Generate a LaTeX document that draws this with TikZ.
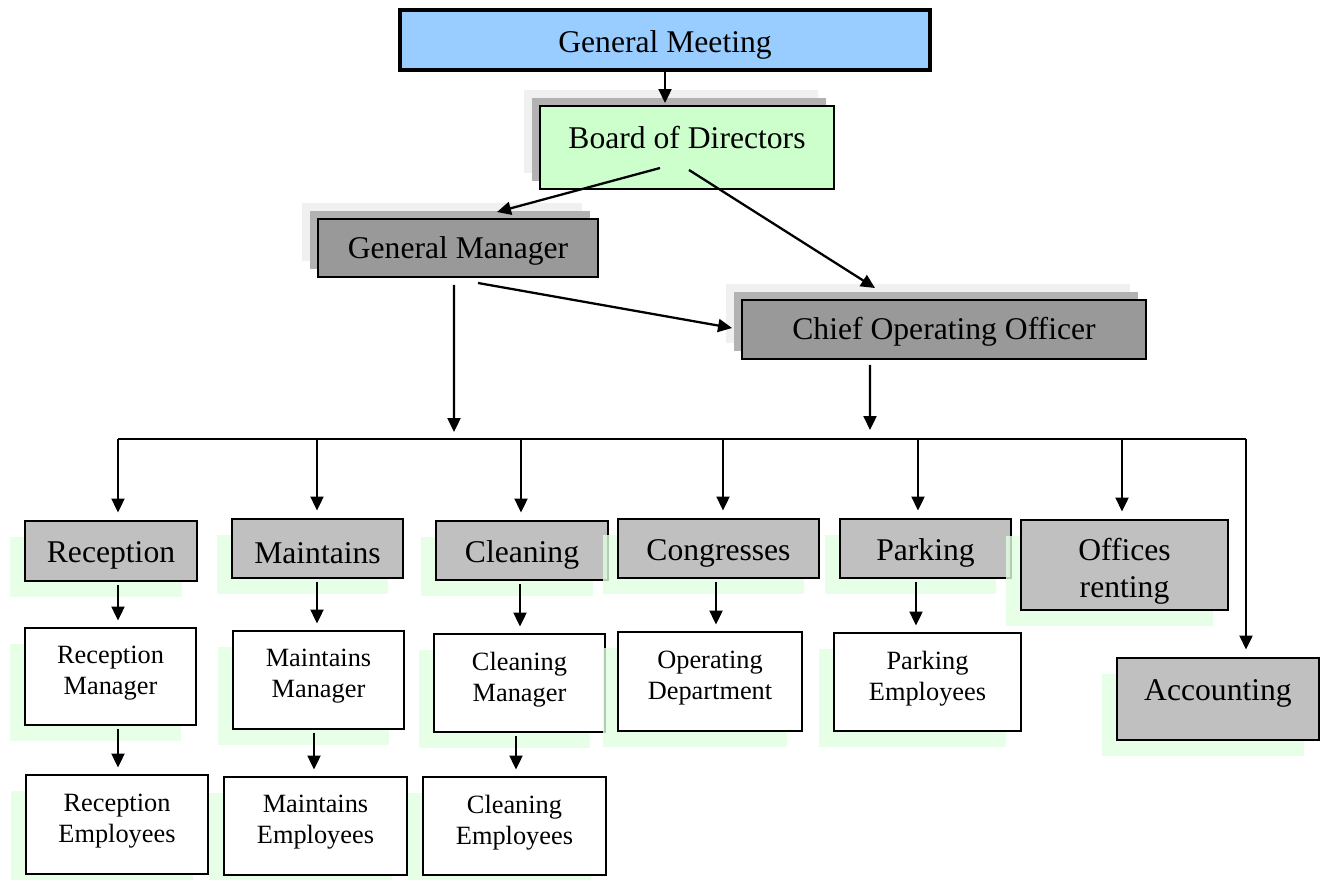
\documentclass[tikz,border=0pt]{standalone}
\usepackage{fontspec}
\setmainfont{Liberation Serif}
\usetikzlibrary{arrows.meta,shadows}
\definecolor{ocInk}{HTML}{000000}
\definecolor{ocBlue}{HTML}{99CCFF}
\definecolor{ocMint}{HTML}{CCFFCC}
\definecolor{ocDark}{HTML}{999999}
\definecolor{ocGrey}{HTML}{C0C0C0}
\definecolor{ocShade}{HTML}{B2B2B2}
\definecolor{ocHaze}{HTML}{F0F0F0}
\definecolor{ocGreen}{HTML}{E0FFE0}

\begin{document}
\begin{tikzpicture}[
  x=0.02cm,y=-0.02cm,
  every node/.style={text=ocInk,align=center,inner sep=0pt,outer sep=0pt},
  big/.style={font=\fontsize{18}{21}\selectfont},
  small/.style={font=\fontsize{15}{17.5}\selectfont},
  twoshade/.style={general shadow={draw=none,fill=ocHaze,shadow xshift=-0.32cm,shadow yshift=0.32cm},
    general shadow={draw=none,fill=ocShade,shadow xshift=-0.16cm,shadow yshift=0.16cm}},
  greenshade/.style={general shadow={draw=none,fill=ocGreen,fill opacity=0.8,shadow xshift=-0.3cm,shadow yshift=-0.32cm}},
  head/.style={big,draw,line width=1pt,fill=ocDark,twoshade,text height=0.55cm},
  unit/.style={big,draw,line width=1pt,fill=ocGrey,greenshade,text height=0.6cm},
  staff/.style={small,draw,line width=1pt,fill=white,greenshade,text depth=0.26cm},
  flow/.style={-{Triangle[length=2.8mm,width=2.6mm]},line width=1.3pt},
  bus/.style={line width=1.3pt}
]
\path[use as bounding box] (0,0) rectangle (1324,879);
% top of the chart
\node[big,draw,line width=2pt,fill=ocBlue,text height=0.63cm,minimum width=10.6cm,minimum height=1.2cm] (meet) at (665,40) {General Meeting};
\node[big,draw,line width=1pt,fill=ocMint,twoshade,text depth=0.4cm,minimum width=5.88cm,minimum height=1.66cm] (board) at (687,147.5) {Board of Directors};
\node[head,minimum width=5.6cm,minimum height=1.16cm] (genmgr) at (458,248) {General Manager};
\node[head,minimum width=8.08cm,minimum height=1.18cm] (coo) at (944,329.5) {Chief Operating Officer};
% departments
\node[unit,minimum width=3.44cm,minimum height=1.2cm] (recep) at (111,551) {Reception};
\node[unit,minimum width=3.42cm,minimum height=1.18cm] (maint) at (317.5,548.5) {Maintains};
\node[unit,minimum width=3.44cm,minimum height=1.18cm] (clean) at (522,550.5) {Cleaning};
\node[unit,minimum width=4.02cm,minimum height=1.18cm] (congr) at (718.5,548.5) {Congresses};
\node[unit,minimum width=3.42cm,minimum height=1.18cm] (park) at (925.5,548.5) {Parking};
\node[unit,text height=1.44cm,minimum width=4.14cm,minimum height=1.8cm] (offic) at (1124.5,565) {Offices\\renting};
\node[unit,text depth=0.53cm,minimum width=4.04cm,minimum height=1.64cm] (acct) at (1218,699) {Accounting};
% staff
\node[staff,minimum width=3.42cm,minimum height=1.94cm] (recmgr) at (110.5,676.5) {Reception\\Manager};
\node[staff,minimum width=3.42cm,minimum height=1.96cm] (mntmgr) at (318.5,680) {Maintains\\Manager};
\node[staff,minimum width=3.42cm,minimum height=1.96cm] (clnmgr) at (519.5,683) {Cleaning\\Manager};
\node[staff,minimum width=3.68cm,minimum height=1.98cm] (opdep) at (710,681.5) {Operating\\Department};
\node[staff,minimum width=3.74cm,minimum height=1.96cm] (parkemp) at (927.5,682) {Parking\\Employees};
\node[staff,minimum width=3.64cm,minimum height=1.98cm] (recemp) at (117,824.5) {Reception\\Employees};
\node[staff,minimum width=3.66cm,minimum height=1.96cm] (mntemp) at (315.5,826) {Maintains\\Employees};
\node[staff,minimum width=3.66cm,minimum height=1.96cm] (clnemp) at (514.5,826) {Cleaning\\Employees};
% upper arrows
\draw[flow,shorten >=0.06cm] (meet.south) -- (meet.south |- board.north);
\draw[flow] ([xshift=-0.54cm,yshift=-0.41cm]board.center) -- ([xshift=0.78cm,yshift=0.14cm]genmgr.north);
\draw[flow] ([xshift=0.04cm,yshift=-0.45cm]board.center) -- ([xshift=-1.38cm,yshift=0.24cm]coo.north);
\draw[flow] ([xshift=0.4cm,yshift=-0.12cm]genmgr.south) -- ([xshift=-0.2cm,yshift=0.03cm]coo.west);
% bus
\coordinate (gmin) at (454,439);
\coordinate (cooin) at (870,439);
\coordinate (b1) at (118,439);
\coordinate (b2) at (317,439);
\coordinate (b3) at (521,439);
\coordinate (b4) at (723,439);
\coordinate (b5) at (918,439);
\coordinate (b6) at (1122,439);
\coordinate (b7) at (1246,439);
\draw[flow,shorten >=0.14cm] ([xshift=-0.08cm,yshift=-0.16cm]genmgr.south) -- (gmin);
\draw[flow,shorten >=0.18cm] ([xshift=-1.48cm,yshift=-0.12cm]coo.south) -- (cooin);
\draw[bus] (b1) -- (b7);
\foreach \c/\n in {b1/recep,b2/maint,b3/clean,b4/congr,b5/park,b6/offic,b7/acct}
  \draw[flow,shorten >=0.17cm] (\c) -- (\c |- \n.north);
% lower arrows
\foreach \a/\b/\x in {recep/recmgr/118,maint/mntmgr/317,clean/clnmgr/520,congr/opdep/716,park/parkemp/916,recmgr/recemp/118,mntmgr/mntemp/314,clnmgr/clnemp/516}
  \draw[flow,shorten <=0.07cm,shorten >=0.15cm] (\a.south -| \x,0) -- (\b.north -| \x,0);
\end{tikzpicture}
\end{document}
